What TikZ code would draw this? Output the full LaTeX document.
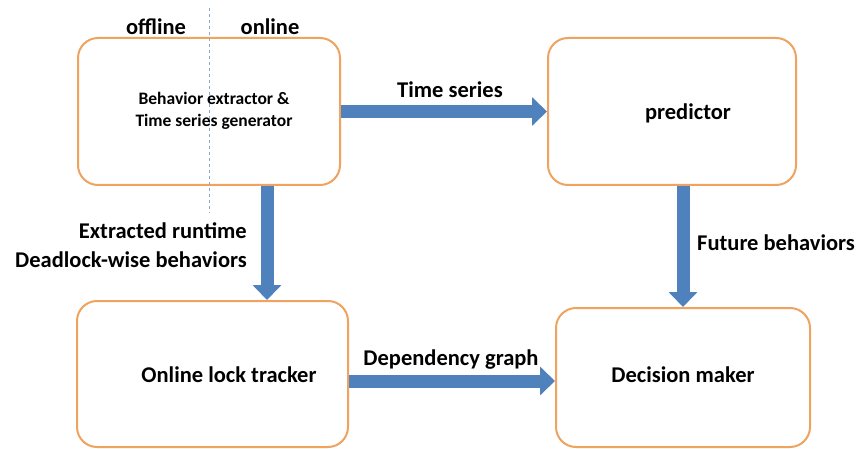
\documentclass[tikz,border=0pt]{standalone}
\usepackage{fontspec}
\setmainfont{Carlito}
\usetikzlibrary{arrows.meta}
\definecolor{boxorange}{HTML}{F0A35E}
\definecolor{flowblue}{HTML}{4F81BD}
\definecolor{splitgray}{HTML}{8FA8C8}
\tikzset{
  block/.style={draw=boxorange,line width=2pt,rounded corners=20pt,inner sep=0pt},
  flow/.style={draw=flowblue,line width=13pt,-{Triangle[width=28pt,length=15pt]}},
  lbl/.style={font=\bfseries\fontsize{22.5}{29}\selectfont,inner sep=0pt},
  small lbl/.style={font=\bfseries\fontsize{17.5}{22}\selectfont,inner sep=0pt}
}

\begin{document}
\begin{tikzpicture}[x=1pt,y=-1pt]
\useasboundingbox (0,0) rectangle (857,449);

\node[block,minimum width=262pt,minimum height=147pt] (extractor) at (209,111.5) {};
\node[block,minimum width=248pt,minimum height=147pt] (predictor) at (672,111.5) {};
\node[block,minimum width=271pt,minimum height=146pt] (tracker) at (212.5,374) {};
\node[block,minimum width=254pt,minimum height=139pt] (decision) at (683,377.5) {};

\coordinate (split top) at (209,8);
\coordinate (split bottom) at (209,213);
\draw[splitgray,dashed,line width=1pt] (split top) -- (split bottom);

\node[small lbl,align=center] (extractor text) at (214,111) {Behavior extractor \&\\Time series generator};
\node[lbl] (predictor text) at (688,113) {predictor};
\node[lbl] (tracker text) at (229,375) {Online lock tracker};
\node[lbl] (decision text) at (683,375) {Decision maker};

\node[lbl] (offline) at (156,27) {offline};
\node[lbl] (online) at (270,27) {online};

\draw[flow] (extractor.east) -- (predictor.west);
\draw[flow] (extractor.south -| 267,0) -- (tracker.north -| 267,0);
\draw[flow] (predictor.south -| decision.north) -- (decision.north);
\draw[flow] (tracker.east |- 0,381) -- (decision.west |- 0,381);

\node[lbl] (series) at (450,90) {Time series};
\node[lbl,align=right,anchor=east] (extracted) at (247,245) {Extracted runtime\\Deadlock-wise behaviors};
\node[lbl,anchor=west] (future) at (697,243) {Future behaviors};
\node[lbl] (dependency) at (451,360) {Dependency graph};
\end{tikzpicture}
\end{document}
